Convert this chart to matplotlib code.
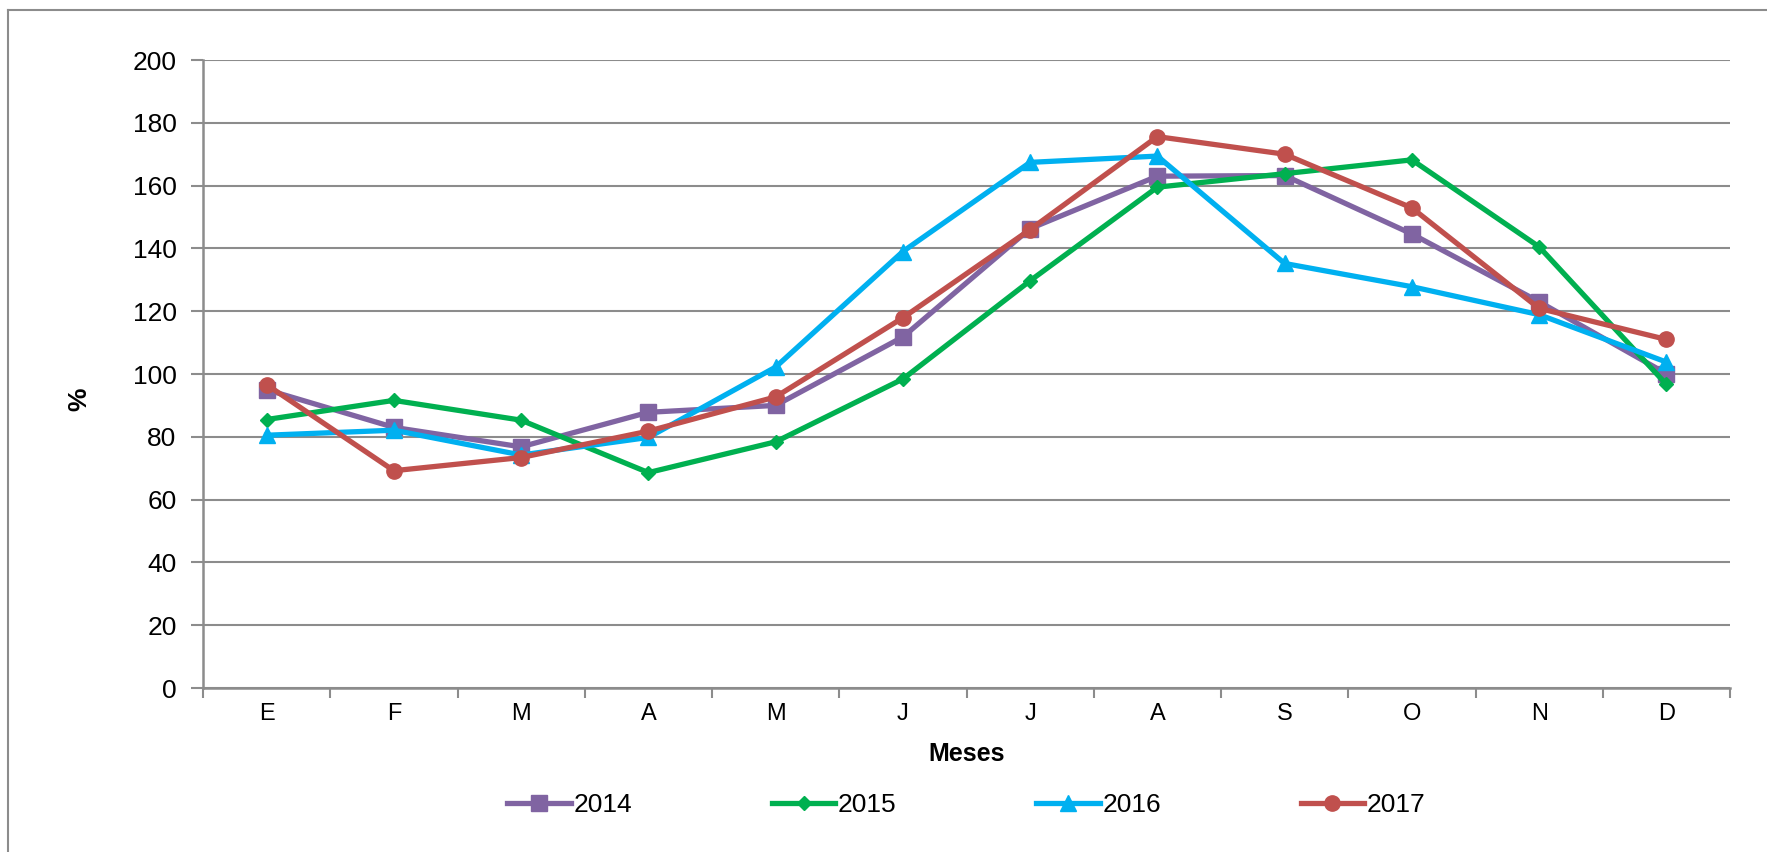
import matplotlib
matplotlib.use("Agg")
import matplotlib.pyplot as plt
from matplotlib.lines import Line2D

plt.rcParams['font.family'] = ['Liberation Sans', 'DejaVu Sans']

months = ["E", "F", "M", "A", "M", "J", "J", "A", "S", "O", "N", "D"]
s2014 = [95.0, 83.0, 76.8, 87.8, 90.0, 111.8, 146.3, 163.0, 163.2, 144.6, 123.0, 100.1]
s2015 = [85.5, 91.6, 85.3, 68.6, 78.4, 98.4, 129.7, 159.5, 163.8, 168.2, 140.5, 96.7]
s2016 = [80.5, 82.1, 74.2, 79.8, 102.2, 139.0, 167.4, 169.4, 135.2, 127.8, 118.9, 103.8]
s2017 = [96.6, 69.2, 73.4, 81.8, 92.7, 117.9, 146.0, 175.6, 170.0, 152.9, 120.9, 111.0]
yticks = [0, 20, 40, 60, 80, 100, 120, 140, 160, 180, 200]

series = [
    ("2014", s2014, "#8064A2", "s", 11),
    ("2015", s2015, "#00B050", "D", 7.5),
    ("2016", s2016, "#00B0F0", "^", 11),
    ("2017", s2017, "#C0504D", "o", 11),
]

fig = plt.figure(figsize=(17.67, 8.52), dpi=100)
ax = fig.add_axes([203 / 1767, 1 - 688 / 852, (1730 - 203) / 1767, (688 - 60) / 852])

x = list(range(len(months)))
for name, vals, col, mk, ms in series:
    ax.plot(x, vals, color=col, lw=3.8, marker=mk, markersize=ms,
            markerfacecolor=col, markeredgecolor=col, label=name, zorder=3)

ax.set_xlim(-0.5, len(months) - 0.5)
ax.set_ylim(0, 200)
ax.set_yticks(yticks)
ax.set_yticklabels([str(v) for v in yticks], fontsize=19)
ax.set_xticks(x)
ax.set_xticklabels(months, fontsize=17)
ax.set_xticks([i - 0.5 for i in range(len(months) + 1)], minor=True)
ax.tick_params(axis='x', which='major', length=0, pad=11)
ax.tick_params(axis='x', which='minor', length=7, color='#8c8c8c', width=1.5)
ax.tick_params(axis='y', length=9, color='#8c8c8c', width=1.5, direction='out', pad=10)
ax.yaxis.grid(True, color='#8c8c8c', lw=1.5)
ax.set_axisbelow(True)
for s in ['top', 'right']:
    ax.spines[s].set_visible(False)
for s in ['left', 'bottom']:
    ax.spines[s].set_color('#8c8c8c')
    ax.spines[s].set_linewidth(1.8)

ax.set_xlabel("Meses", fontsize=18, fontweight='bold', labelpad=12)
ax.set_ylabel("%", fontsize=19, fontweight='bold')
ax.yaxis.set_label_coords(-0.073, 0.46)

leg = ax.legend(loc='upper center', bbox_to_anchor=(0.5, -0.13), ncol=4, frameon=False,
                fontsize=19, handlelength=2.4, columnspacing=5.3, handletextpad=0.1)

fig.add_artist(Line2D([8 / 1767, 8 / 1767], [0, 1 - 10 / 852], transform=fig.transFigure,
                      color='#8c8c8c', lw=1.5))
fig.add_artist(Line2D([8 / 1767, 1], [1 - 10 / 852, 1 - 10 / 852], transform=fig.transFigure,
                      color='#8c8c8c', lw=1.5))

fig.savefig("out.png", dpi=100)
